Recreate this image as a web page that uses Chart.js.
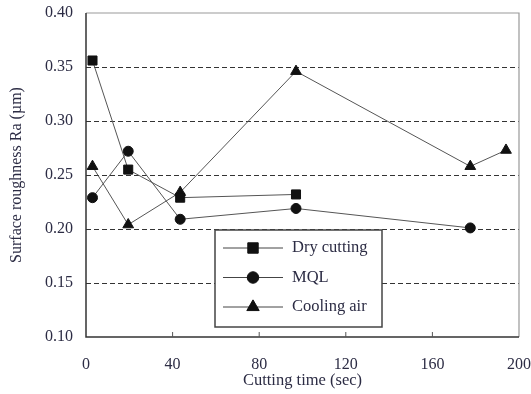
<!DOCTYPE html>
<html>
<head>
<meta charset="utf-8">
<script src="https://cdn.jsdelivr.net/npm/chart.js@4"></script>
<style>
  html, body { margin: 0; padding: 0; background: #fff; }
  #wrap { width: 531px; height: 394px; position: relative; }
</style>
</head>
<body>
<div id="wrap"><canvas id="roughChart"></canvas></div>
<script>
// values
const seriesNames = ['Dry cutting', 'MQL', 'Cooling air'];
const dryTime = [3, 19.5, 43.5, 97];
const dryRa = [0.356, 0.255, 0.229, 0.232];
const mqlTime = [3, 19.5, 43.5, 97, 177.5];
const mqlRa = [0.229, 0.272, 0.209, 0.219, 0.201];
const airTime = [3, 19.5, 43.5, 97, 177.5, 194];
const airRa = [0.258, 0.204, 0.234, 0.346, 0.258, 0.273];
const xTicks = [0, 40, 80, 120, 160, 200];
const yTicks = [0.10, 0.15, 0.20, 0.25, 0.30, 0.35, 0.40];

const textColor = '#2c2c44';
const serif = '"Liberation Serif", "DejaVu Serif", serif';
const markers = [
    { style: 'rect', radius: 6.4 },
    { style: 'circle', radius: 5 },
    { style: 'triangle', radius: 6.2 }
];

function toPoints(xs, ys) {
    return xs.map((x, i) => ({ x: x, y: ys[i] }));
}

function makeSet(i, xs, ys) {
    return {
        label: seriesNames[i],
        data: toPoints(xs, ys),
        borderColor: '#555',
        borderWidth: 1,
        pointStyle: markers[i].style,
        pointRadius: markers[i].radius,
        pointBackgroundColor: '#111',
        pointBorderColor: '#111',
        pointBorderWidth: 1,
        tension: 0
    };
}

// frame, inward x ticks and the boxed legend
const decor = {
    id: 'decor',
    afterDatasetsDraw(chart) {
        const { ctx, chartArea: a, scales } = chart;
        ctx.save();
        // frame
        ctx.strokeStyle = '#999';
        ctx.lineWidth = 1.2;
        ctx.beginPath();
        ctx.moveTo(a.left, a.top);
        ctx.lineTo(a.right, a.top);
        ctx.lineTo(a.right, a.bottom);
        ctx.stroke();
        ctx.strokeStyle = '#333';
        ctx.lineWidth = 1.5;
        ctx.beginPath();
        ctx.moveTo(a.left, a.top);
        ctx.lineTo(a.left, a.bottom);
        ctx.lineTo(a.right, a.bottom);
        ctx.stroke();
        // inward ticks on the x axis
        ctx.lineWidth = 1;
        ctx.strokeStyle = '#555';
        xTicks.slice(1, -1).forEach(v => {
            const px = scales.x.getPixelForValue(v);
            ctx.beginPath();
            ctx.moveTo(px, a.bottom);
            ctx.lineTo(px, a.bottom - 5);
            ctx.stroke();
        });
        // legend box
        const bx = 215, by = 230, bw = 167, bh = 97;
        ctx.fillStyle = '#fff';
        ctx.fillRect(bx, by, bw, bh);
        ctx.strokeStyle = '#444';
        ctx.lineWidth = 1.5;
        ctx.strokeRect(bx, by, bw, bh);
        const rows = [248, 277.5, 307];
        ctx.font = '16.5px ' + serif;
        ctx.textBaseline = 'middle';
        rows.forEach((ry, i) => {
            ctx.strokeStyle = '#444';
            ctx.lineWidth = 1;
            ctx.beginPath();
            ctx.moveTo(223, ry);
            ctx.lineTo(283, ry);
            ctx.stroke();
            ctx.fillStyle = '#111';
            ctx.strokeStyle = '#111';
            Chart.helpers.drawPoint(ctx, {
                pointStyle: markers[i].style,
                radius: markers[i].radius * 1.15,
                borderWidth: 1,
                rotation: 0
            }, 253, ry);
            ctx.fillStyle = textColor;
            ctx.fillText(seriesNames[i], 292, ry);
        });
        ctx.restore();
    }
};

new Chart(document.getElementById('roughChart'), {
    type: 'line',
    data: {
        datasets: [
            makeSet(0, dryTime, dryRa),
            makeSet(1, mqlTime, mqlRa),
            makeSet(2, airTime, airRa)
        ]
    },
    options: {
        responsive: true,
        maintainAspectRatio: false,
        animation: false,
        layout: { padding: { top: 13, right: 12, left: 0, bottom: 0 } },
        plugins: {
            legend: { display: false },
            tooltip: { enabled: false }
        },
        scales: {
            x: {
                type: 'linear',
                min: 0,
                max: 200,
                afterFit: s => { s.height = 57; s.paddingLeft = 0; s.paddingRight = 0; },
                afterBuildTicks: s => { s.ticks = xTicks.map(v => ({ value: v })); },
                border: { display: false },
                grid: { display: false },
                ticks: {
                    padding: 10,
                    color: textColor,
                    font: { family: serif, size: 16 }
                },
                title: {
                    display: true,
                    text: 'Cutting time (sec)',
                    color: textColor,
                    font: { family: serif, size: 16.5 },
                    padding: { top: 0, bottom: 3 }
                }
            },
            y: {
                type: 'linear',
                min: 0.10,
                max: 0.40,
                afterFit: s => { s.width = 86; s.paddingTop = 0; s.paddingBottom = 0; },
                afterBuildTicks: s => { s.ticks = yTicks.map(v => ({ value: v })); },
                border: { display: false, dash: [5, 3] },
                grid: {
                    drawTicks: false,
                    color: c => (c.tick && (c.tick.value < 0.11 || c.tick.value > 0.39)) ? 'rgba(0,0,0,0)' : '#333',
                    lineWidth: 1
                },
                ticks: {
                    padding: 13,
                    color: textColor,
                    font: { family: serif, size: 16 },
                    callback: v => v.toFixed(2)
                },
                title: {
                    display: true,
                    text: 'Surface roughness Ra (µm)',
                    color: textColor,
                    font: { family: serif, size: 16 },
                    padding: { top: 7, bottom: 0 }
                }
            }
        }
    },
    plugins: [decor]
});
</script>
</body>
</html>
